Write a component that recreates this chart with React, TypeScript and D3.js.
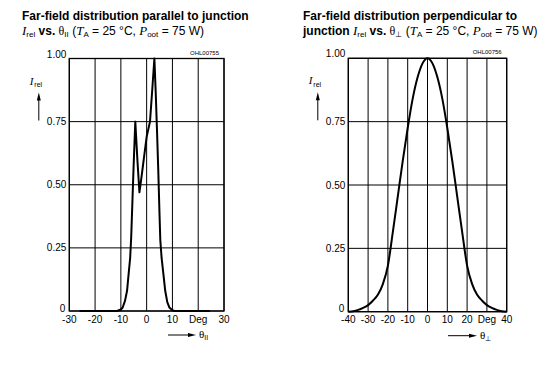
import React from 'react'
import * as d3 from 'd3'

// parallel to junction (theta ||), relative intensity
const parAngles = [-26, -11.5, -10, -9.3, -8.4, -7.6, -7, -6.4, -6, -5.5, -5, -4.4, -3.6, -2.8, -2, -1, 0, 1.3, 2.2, 3, 3.5, 4, 4.5, 5, 5.3, 5.8, 6.5, 7.2, 8, 8.8, 10, 10.8, 24.5]
const parValues = [0, 0, 0.006, 0.014, 0.04, 0.08, 0.146, 0.21, 0.29, 0.44, 0.59, 0.75, 0.6, 0.47, 0.53, 0.61, 0.69, 0.75, 0.88, 1.0, 0.87, 0.72, 0.56, 0.38, 0.28, 0.21, 0.146, 0.08, 0.035, 0.014, 0.003, 0, 0]

// perpendicular to junction (theta ⊥)
const perpAngles = [-40, -37.5, -35, -32.5, -30, -27.5, -25, -22.5, -20, -17.5, -15, -12.5, -10, -7.5, -5, -2.5, 0, 2.5, 5, 7.5, 10, 12.5, 15, 17.5, 20, 22.5, 25, 27.5, 30, 32.5, 35, 37.5, 40]
const perpValues = [0, 0.002, 0.007, 0.015, 0.026, 0.044, 0.068, 0.11, 0.182, 0.315, 0.455, 0.595, 0.725, 0.84, 0.925, 0.98, 1.0, 0.98, 0.925, 0.84, 0.725, 0.595, 0.455, 0.315, 0.182, 0.11, 0.068, 0.044, 0.026, 0.015, 0.007, 0.002, 0]

const parTicks = [-30, -20, -10, 0, 10, 20, 30]
const parTickLabels = ['-30', '-20', '-10', '0', '10', 'Deg', '30']
const perpTicks = [-40, -30, -20, -10, 0, 10, 20, 30, 40]
const perpTickLabels = ['-40', '-30', '-20', '-10', '0', '10', '20', 'Deg', '40']
const yTicks = [0, 0.25, 0.5, 0.75, 1]
const yTickLabels = ['0', '0.25', '0.50', '0.75', '1.00']

const sans = "'Liberation Sans', Arial, sans-serif"
const serif = "'Liberation Serif', 'Times New Roman', serif"

interface PanelProps {
  x0: number; x1: number; y0: number; y1: number
  domain: [number, number]
  ticks: number[]; tickLabels: string[]
  angles: number[]; values: number[]
  code: string
  curve: d3.CurveFactory
  thetaSub: string
  arrowX: [number, number]
}

const Panel: React.FC<PanelProps> = (p) => {
  const x = d3.scaleLinear().domain(p.domain).range([p.x0, p.x1])
  const y = d3.scaleLinear().domain([0, 1]).range([p.y1, p.y0])
  const line = d3.line<number>()
    .x((_, i) => x(p.angles[i]))
    .y((d) => y(d))
    .curve(p.curve)
  const ax = p.x0 - 30.5
  return (
    <g>
      {p.ticks.map((t) => (
        <line key={'v' + t} x1={x(t)} x2={x(t)} y1={p.y0} y2={p.y1} stroke="#000" strokeWidth={1} />
      ))}
      {yTicks.map((t) => (
        <line key={'h' + t} x1={p.x0} x2={p.x1} y1={y(t)} y2={y(t)} stroke="#000" strokeWidth={1} />
      ))}
      <rect x={p.x0} y={p.y0} width={p.x1 - p.x0} height={p.y1 - p.y0} fill="none" stroke="#000" strokeWidth={1.3} />
      <path d={line(p.values) || ''} fill="none" stroke="#000" strokeWidth={2} strokeLinejoin="round" />
      {yTicks.map((t, i) => (
        <text key={'yl' + t} x={t === 0 ? p.x0 - 4 : p.x0 - 3} y={t === 1 ? y(t) - 1 : t === 0 ? y(t) + 0.5 : y(t) + 3.5}
          textAnchor="end" fontSize={10} fontFamily={sans}>{yTickLabels[i]}</text>
      ))}
      {p.ticks.map((t, i) => (
        <text key={'xl' + t} x={x(t)} y={p.y1 + 11.5} textAnchor="middle" fontSize={10} fontFamily={sans}>{p.tickLabels[i]}</text>
      ))}
      <text x={p.x1 - 5} y={p.y0 - 4} textAnchor="end" fontSize={6} fontFamily={sans}>{p.code}</text>
      {/* y axis label with arrow */}
      <text x={ax - 9} y={p.y0 + 26} fontFamily={serif} fontStyle="italic" fontSize={11}>I</text>
      <text x={ax - 4.5} y={p.y0 + 28.5} fontFamily={sans} fontSize={7}>rel</text>
      <line x1={ax} x2={ax} y1={p.y0 + 62} y2={p.y0 + 40} stroke="#000" strokeWidth={1} />
      <path d={`M${ax},${p.y0 + 34} L${ax - 2},${p.y0 + 42} L${ax + 2},${p.y0 + 42} Z`} fill="#000" />
      {/* x axis label with arrow */}
      <line x1={p.arrowX[0]} x2={p.arrowX[1] - 6} y1={p.y1 + 24} y2={p.y1 + 24} stroke="#000" strokeWidth={1} />
      <path d={`M${p.arrowX[1]},${p.y1 + 24} L${p.arrowX[1] - 8},${p.y1 + 22} L${p.arrowX[1] - 8},${p.y1 + 26} Z`} fill="#000" />
      <text x={p.arrowX[1] + 3} y={p.y1 + 27} fontFamily={serif} fontSize={11}>θ
        <tspan fontFamily={sans} fontSize={7} dy={2}>{p.thetaSub}</tspan>
      </text>
    </g>
  )
}

const SubLine: React.FC<{ x: number; y: number; prefix?: string; thetaSub: string }> = ({ x, y, prefix, thetaSub }) => (
  <text x={x} y={y} fontFamily={sans} fontSize={12}>
    {prefix ? <tspan fontWeight="bold">{prefix}</tspan> : null}
    <tspan fontFamily={serif} fontStyle="italic" fontSize={13}>I</tspan>
    <tspan fontSize={8} dy={2}>rel</tspan>
    <tspan fontWeight="bold" dy={-2}> vs. </tspan>
    <tspan fontFamily={serif}>θ</tspan>
    <tspan fontSize={8} dy={2}>{thetaSub}</tspan>
    <tspan dy={-2}> (</tspan>
    <tspan fontFamily={serif} fontStyle="italic" fontSize={13}>T</tspan>
    <tspan fontSize={8} dy={2}>A</tspan>
    <tspan dy={-2}> = 25 °C, </tspan>
    <tspan fontFamily={serif} fontStyle="italic" fontSize={13}>P</tspan>
    <tspan fontSize={8} dy={2}>oot</tspan>
    <tspan dy={-2}> = 75 W)</tspan>
  </text>
)

export default function App() {
  return (
    <svg width={548} height={368} style={{ position: 'absolute', left: 0, top: 0, background: '#fff' }}>
      <text x={22} y={20} fontFamily={sans} fontSize={12} fontWeight="bold">Far-field distribution parallel to junction</text>
      <SubLine x={22} y={34.5} thetaSub="II" />
      <text x={303} y={20} fontFamily={sans} fontSize={12} fontWeight="bold">Far-field distribution perpendicular to</text>
      <SubLine x={303} y={34.5} prefix="junction " thetaSub="⊥" />
      <Panel x0={69.3} x1={224} y0={58.5} y1={311} domain={[-30, 30]}
        ticks={parTicks} tickLabels={parTickLabels} angles={parAngles} values={parValues}
        code="OHL00755" curve={d3.curveLinear} thetaSub="II" arrowX={[168, 196]} />
      <Panel x0={348.3} x1={506.7} y0={58.3} y1={311.7} domain={[-40, 40]}
        ticks={perpTicks} tickLabels={perpTickLabels} angles={perpAngles} values={perpValues}
        code="OHL00756" curve={d3.curveMonotoneX} thetaSub="⊥" arrowX={[448, 477]} />
    </svg>
  )
}
